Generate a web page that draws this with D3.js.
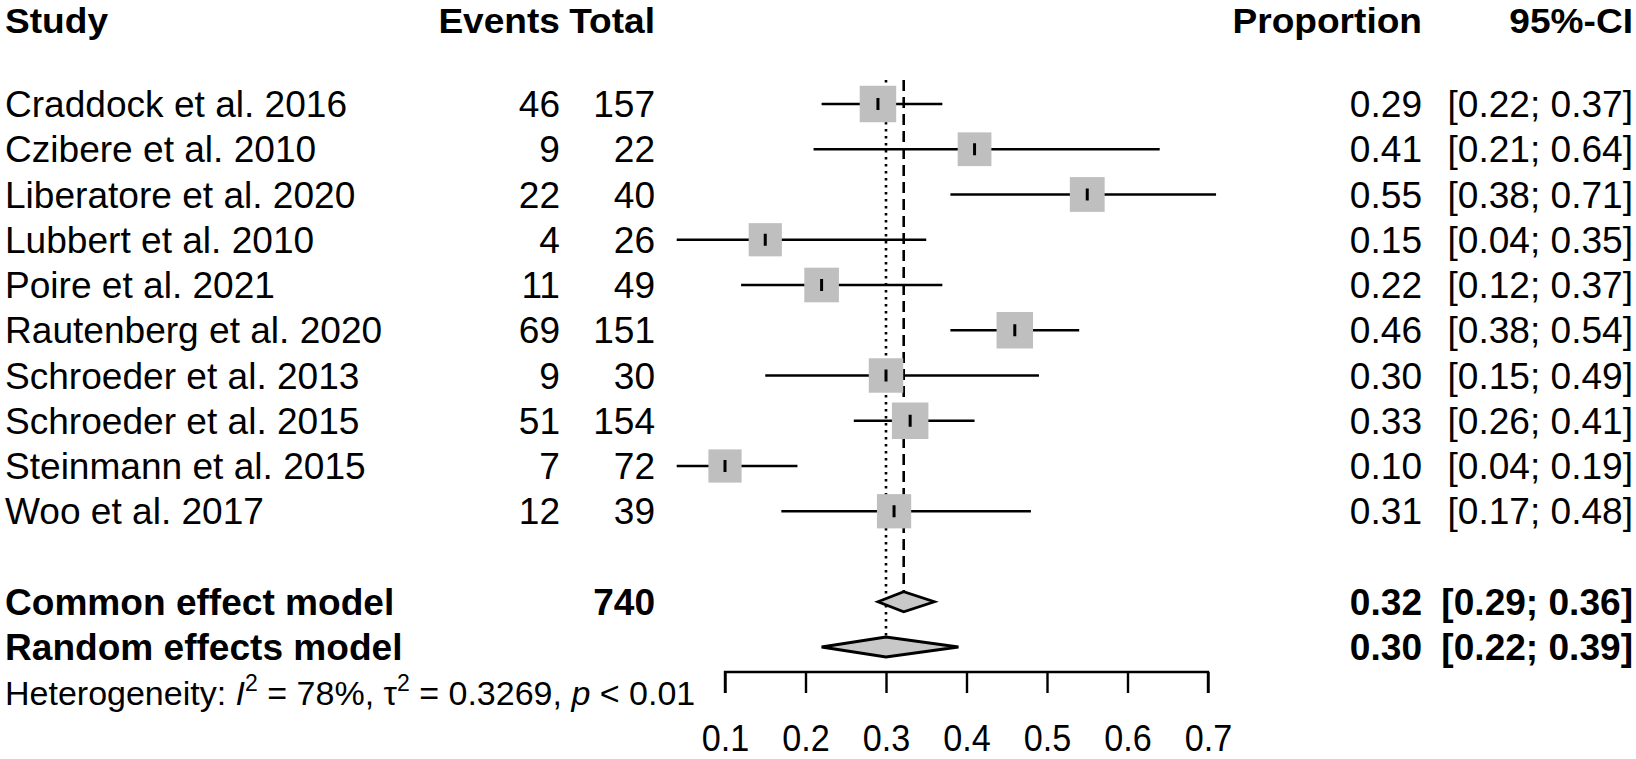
<!DOCTYPE html>
<html>
<head>
<meta charset="utf-8">
<script src="https://cdn.jsdelivr.net/npm/d3@7"></script>
<style>
  body { margin: 0; background: #fff; }
  svg text { font-family: "Liberation Sans", Arial, sans-serif; fill: #000; }
</style>
</head>
<body>
<div id="chart"></div>
<script>
const width = 1636;
const height = 759;

// study data
const studies = ["Craddock et al. 2016", "Czibere et al. 2010", "Liberatore et al. 2020",
  "Lubbert et al. 2010", "Poire et al. 2021", "Rautenberg et al. 2020",
  "Schroeder et al. 2013", "Schroeder et al. 2015", "Steinmann et al. 2015", "Woo et al. 2017"];
const events = [46, 9, 22, 4, 11, 69, 9, 51, 7, 12];
const totals = [157, 22, 40, 26, 49, 151, 30, 154, 72, 39];
const props = [0.29, 0.41, 0.55, 0.15, 0.22, 0.46, 0.30, 0.33, 0.10, 0.31];
const lower = [0.22, 0.21, 0.38, 0.04, 0.12, 0.38, 0.15, 0.26, 0.04, 0.17];
const upper = [0.37, 0.64, 0.71, 0.35, 0.37, 0.54, 0.49, 0.41, 0.19, 0.48];
const weights = [11.0, 9.4, 10.0, 9.1, 9.9, 11.0, 9.8, 11.0, 9.1, 9.7];

// pooled estimates
const summaryLabels = ["Common effect model", "Random effects model"];
const summaryTotal = [740, null];
const summaryEst = [0.322, 0.30];
const summaryLower = [0.29, 0.22];
const summaryUpper = [0.36, 0.39];

const tickValues = [0.1, 0.2, 0.3, 0.4, 0.5, 0.6, 0.7];

const svg = d3.select("#chart")
    .append("svg")
        .attr("width", width)
        .attr("height", height);

const x = d3.scaleLinear()
    .domain([0.1, 0.7])
    .range([725, 1208]);

// row index -> vertical centre
const y = d3.scaleLinear()
    .domain([0, 12])
    .range([104, 647]);

const boxSize = d3.scaleSqrt()
    .domain([0, 11])
    .range([0, 36.5]);

const fmt = d3.format(".2f");
const ciText = (l, u) => `[${fmt(l)}; ${fmt(u)}]`;

// text is a bit wider than plain Arial in the original
function label(g, xPos, yPos, str, anchor, bold, size, sx) {
    return g.append("text")
        .attr("transform", `translate(${xPos},${yPos}) scale(${sx || 1.03},1)`)
        .attr("text-anchor", anchor)
        .style("font-size", (size || 36) + "px")
        .attr("font-weight", bold ? "bold" : "normal")
        .text(str);
}

const cols = { study: 5, events: 560, total: 655, prop: 1422, ci: 1633 };
const base = 13;

// headers
const head = svg.append("g");
label(head, cols.study, 33, "Study", "start", true, 35, 1.06);
label(head, cols.events, 33, "Events", "end", true, 35, 1.06);
label(head, cols.total, 33, "Total", "end", true, 35, 1.06);
label(head, cols.prop, 33, "Proportion", "end", true, 35, 1.06);
label(head, cols.ci, 33, "95%-CI", "end", true, 35, 1.06);

// reference lines
const random = summaryEst[1];
const common = summaryEst[0];
svg.append("line")
    .attr("x1", x(random)).attr("x2", x(random))
    .attr("y1", 80).attr("y2", y(12) - 9)
    .attr("stroke", "#000").attr("stroke-width", 2.6)
    .attr("stroke-dasharray", "2.6,4.4");
svg.append("line")
    .attr("x1", x(common)).attr("x2", x(common))
    .attr("y1", 80).attr("y2", y(11) - 10)
    .attr("stroke", "#000").attr("stroke-width", 2.6)
    .attr("stroke-dasharray", "11,6");

// study rows
const rows = svg.append("g");
studies.forEach((s, i) => {
    const cy = y(i);
    rows.append("line")
        .attr("x1", x(lower[i])).attr("x2", x(upper[i]))
        .attr("y1", cy).attr("y2", cy)
        .attr("stroke", "#000").attr("stroke-width", 2.5);
    const b = boxSize(weights[i]);
    rows.append("rect")
        .attr("x", x(props[i]) - b / 2).attr("y", cy - b / 2)
        .attr("width", b).attr("height", b)
        .attr("fill", "#bfbfbf");
    rows.append("line")
        .attr("x1", x(props[i])).attr("x2", x(props[i]))
        .attr("y1", cy - 6).attr("y2", cy + 6)
        .attr("stroke", "#000").attr("stroke-width", 3);

    label(rows, cols.study, cy + base, s, "start", false);
    label(rows, cols.events, cy + base, events[i], "end", false);
    label(rows, cols.total, cy + base, totals[i], "end", false);
    label(rows, cols.prop, cy + base, fmt(props[i]), "end", false);
    label(rows, cols.ci, cy + base, ciText(lower[i], upper[i]), "end", false);
});

// pooled rows with diamonds
const pooled = svg.append("g");
summaryLabels.forEach((s, i) => {
    const cy = y(11 + i);
    pooled.append("path")
        .attr("d", `M${x(summaryLower[i])},${cy} L${x(summaryEst[i])},${cy - 10} ` +
            `L${x(summaryUpper[i])},${cy} L${x(summaryEst[i])},${cy + 10} Z`)
        .attr("fill", "#c8c8c8")
        .attr("stroke", "#000")
        .attr("stroke-width", 2.8);
    label(pooled, cols.study, cy + base, s, "start", true);
    if (summaryTotal[i] != null) label(pooled, cols.total, cy + base, summaryTotal[i], "end", true);
    label(pooled, cols.prop, cy + base, fmt(summaryEst[i]), "end", true);
    label(pooled, cols.ci, cy + base, ciText(summaryLower[i], summaryUpper[i]), "end", true);
});

// heterogeneity line
const het = svg.append("text")
    .attr("transform", `translate(5,705) scale(1.0,1)`)
    .style("font-size", "34px");
het.append("tspan").text("Heterogeneity: ");
het.append("tspan").attr("font-style", "italic").text("I");
het.append("tspan").style("font-size", "23px").attr("dy", -14).text("2");
het.append("tspan").attr("dy", 14).text(" = 78%, \u03C4");
het.append("tspan").style("font-size", "23px").attr("dy", -14).text("2");
het.append("tspan").attr("dy", 14).text(" = 0.3269, ");
het.append("tspan").attr("font-style", "italic").text("p");
het.append("tspan").text(" < 0.01");

// x axis, ticks pointing down
const axis = svg.append("g")
    .attr("transform", "translate(0,672)")
    .call(d3.axisBottom(x).tickValues(tickValues).tickSize(21).tickPadding(0).tickFormat(d3.format(".1f")));
axis.attr("font-size", 36).attr("font-family", "Liberation Sans, Arial, sans-serif");
axis.select(".domain")
    .attr("d", `M${x(0.1)},21V0H${x(0.7)}V21`)
    .attr("stroke-width", 2.4);
axis.selectAll(".tick line").attr("stroke-width", 2.4);
axis.selectAll(".tick text")
    .attr("font-size", 36)
    .attr("fill", "#000")
    .attr("dy", null)
    .attr("y", 0)
    .attr("transform", "translate(0,79) scale(0.95,1)");
</script>
</body>
</html>
